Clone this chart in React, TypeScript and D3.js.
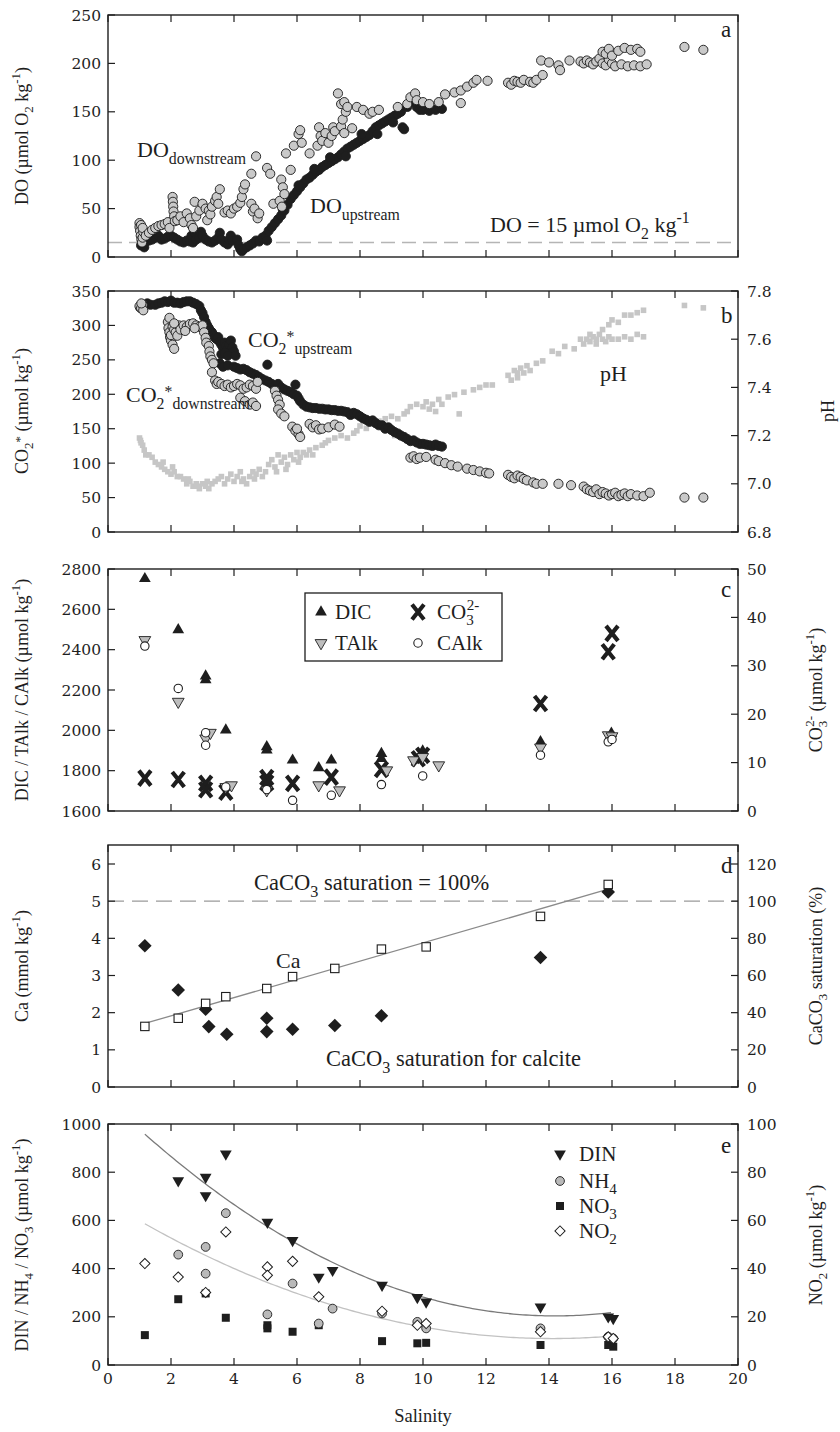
import * as d3 from 'd3'

// salinity axis, shared by all panels
const salTicks = d3.range(0, 21, 2)

// panel a: dissolved oxygen [salinity, µmol O2 kg-1]
const doDown: number[][] = [
  [1.0, 35], [1.0, 31], [1.02, 27], [1.04, 22], [1.06, 18], [1.08, 15], [1.1, 20], [1.12, 26], [1.05, 33], [1.1, 30],
  [1.2, 22], [1.3, 25], [1.4, 28], [1.5, 30], [1.6, 32], [1.7, 33], [1.8, 34], [1.9, 36], [1.95, 30],
  [2.05, 62], [2.06, 57], [2.07, 52], [2.08, 47], [2.1, 42], [2.12, 37],
  [2.2, 38], [2.3, 42], [2.4, 36], [2.5, 45], [2.6, 40], [2.65, 33], [2.7, 30], [2.75, 57], [2.8, 42], [2.9, 48],
  [3.0, 55], [3.1, 50], [3.15, 38], [3.2, 48], [3.25, 44], [3.3, 52], [3.4, 58], [3.45, 62], [3.5, 55], [3.55, 70],
  [3.7, 46], [3.8, 48], [3.9, 45], [4.0, 50], [4.1, 52], [4.2, 56], [4.25, 62], [4.3, 70], [4.35, 75],
  [4.55, 55], [4.6, 47], [4.65, 50], [4.75, 40], [4.8, 45], [4.55, 86], [4.7, 104],
  [5.05, 92], [5.15, 86], [5.25, 55], [5.45, 58], [5.5, 80], [5.52, 52], [5.55, 72], [5.6, 65], [5.65, 107],
  [5.8, 90], [5.9, 115], [6.05, 127], [6.1, 131], [6.15, 118], [6.4, 107],
  [6.65, 115], [6.7, 134], [6.75, 125], [6.8, 120], [6.9, 128], [7.0, 118], [7.1, 125], [7.15, 134], [7.2, 130],
  [7.3, 169], [7.4, 158], [7.4, 135], [7.45, 142], [7.5, 160], [7.5, 128], [7.55, 150], [7.6, 155], [7.75, 133],
  [7.9, 155], [8.1, 152], [8.3, 148], [8.4, 150], [8.6, 152], [9.2, 155],
  [9.5, 158], [9.6, 165], [9.75, 169], [9.8, 162], [10.0, 160], [10.2, 158], [10.5, 160],
  [10.7, 168], [11.0, 170], [11.2, 172], [11.2, 159], [11.4, 176], [11.6, 180], [11.7, 183], [12.05, 182],
  [12.7, 180], [12.8, 178], [12.9, 182], [13.0, 181], [13.1, 180], [13.2, 183], [13.4, 181], [13.5, 180], [13.6, 183], [13.8, 188],
  [13.75, 203], [14.0, 201], [14.3, 198], [14.35, 193], [14.65, 203],
  [15.0, 202], [15.1, 200], [15.2, 203], [15.3, 201], [15.4, 199], [15.5, 202], [15.6, 205], [15.7, 200], [15.8, 198], [15.9, 204], [16.0, 200], [16.1, 197],
  [15.7, 212], [15.8, 210], [15.9, 215], [16.0, 208], [16.2, 213], [16.4, 216], [16.6, 214], [16.8, 215], [16.9, 212],
  [16.3, 199], [16.5, 197], [16.7, 198], [16.9, 197], [17.1, 199],
  [18.3, 217], [18.9, 214],
]
const doUp: number[][] = [
  [1.05, 12], [1.1, 15], [1.15, 10], [1.2, 16], [1.3, 17], [1.4, 18], [1.5, 20], [1.6, 22], [1.7, 18], [1.8, 19], [1.9, 21],
  [2.0, 22], [2.1, 20], [2.2, 18], [2.3, 16], [2.4, 15], [2.5, 17], [2.6, 16], [2.65, 22], [2.7, 15], [2.75, 25], [2.8, 18],
  [2.9, 20], [2.95, 26], [3.0, 22], [3.1, 18], [3.2, 16], [3.3, 15], [3.4, 17], [3.5, 20], [3.55, 25], [3.6, 18], [3.7, 15],
  [3.8, 13], [3.85, 18], [3.9, 22], [3.95, 17],
  [4.1, 18], [4.15, 12], [4.2, 8], [4.25, 6], [4.3, 8], [4.4, 10], [4.5, 12], [4.6, 14], [4.7, 17], [4.8, 16], [4.9, 20], [5.0, 22], [5.05, 17],
  [5.1, 27], [5.2, 31], [5.3, 35], [5.4, 39], [5.5, 43], [5.6, 48], [5.7, 54], [5.8, 60], [5.9, 64], [6.0, 68],
  [6.1, 72], [6.2, 76], [6.3, 80], [6.4, 82], [6.5, 85], [6.6, 88], [6.7, 90], [6.8, 93], [6.9, 95], [7.0, 97],
  [7.1, 99], [7.2, 101], [7.3, 103], [7.4, 106], [7.5, 109], [7.6, 112], [7.7, 114], [7.8, 116], [7.9, 118], [8.0, 120],
  [8.1, 122], [8.2, 124], [8.3, 126], [8.4, 130], [8.5, 134], [8.6, 136], [8.7, 138], [8.8, 140], [8.9, 142], [9.0, 144],
  [9.1, 146], [9.2, 148], [9.3, 150], [9.35, 134], [9.4, 132], [9.5, 155], [9.6, 160], [9.7, 163], [9.8, 155], [9.9, 152],
  [10.0, 152], [10.2, 151], [10.4, 152], [10.6, 153],
  [5.55, 49], [6.05, 74], [6.55, 91], [7.05, 103], [7.55, 104], [8.05, 127], [8.55, 127], [9.05, 139],
]
const doLimit = 15

// panel b: CO2* [salinity, µmol kg-1] and pH [salinity, pH]
const co2Up: number[][] = [
  [1.02, 326], [1.08, 330], [1.15, 328], [1.25, 332], [1.35, 330], [1.5, 330], [1.6, 332], [1.7, 333], [1.8, 335], [1.9, 334],
  [2.0, 336], [2.1, 333], [2.2, 333], [2.3, 332], [2.4, 334], [2.5, 335], [2.6, 335], [2.7, 333], [2.8, 331], [2.9, 328], [2.95, 322],
  [3.0, 318], [3.05, 312], [3.1, 305], [3.15, 300], [3.2, 296], [3.25, 292], [3.3, 290], [3.35, 286], [3.4, 282], [3.45, 280],
  [3.5, 283], [3.55, 276], [3.6, 272], [3.65, 268], [3.7, 275], [3.75, 270], [3.8, 265], [3.85, 272], [3.9, 278], [3.95, 268],
  [4.0, 262], [3.6, 258], [3.7, 260], [3.8, 256], [4.05, 256],
  [3.55, 245], [3.65, 240], [3.8, 242], [4.0, 240], [4.1, 238], [4.2, 236], [4.3, 237], [4.4, 235], [4.5, 232], [4.6, 230], [4.7, 228], [5.06, 243],
  [4.8, 225], [4.9, 222], [5.0, 220], [5.1, 218], [5.2, 215], [5.3, 212], [5.4, 215], [5.5, 210], [5.6, 207], [5.7, 205],
  [5.8, 203], [5.9, 200], [5.95, 214], [6.0, 198],
  [6.05, 194], [6.1, 190], [6.2, 185], [6.3, 182], [6.4, 181], [6.5, 180], [6.6, 180], [6.7, 179], [6.8, 179], [6.9, 178],
  [7.0, 178], [7.1, 177], [7.2, 177], [7.3, 176], [7.4, 176], [7.5, 175], [7.6, 174],
  [7.7, 170], [7.8, 173], [7.9, 171], [8.0, 168], [8.1, 165], [8.2, 163], [8.3, 160], [8.4, 162], [8.5, 158], [8.6, 155],
  [8.7, 155], [8.8, 150], [8.9, 152], [9.0, 148], [9.1, 145], [9.2, 143], [9.3, 140], [9.4, 138],
  [9.5, 135], [9.6, 132], [9.7, 133], [9.8, 130], [9.9, 128], [10.0, 128], [10.1, 127], [10.2, 126], [10.3, 125], [10.4, 127],
  [10.5, 125], [10.6, 124],
]
const co2Down: number[][] = [
  [1.0, 328], [1.05, 325], [1.1, 330], [1.12, 322], [1.06, 332],
  [1.9, 305], [1.92, 296], [1.95, 290], [1.97, 283], [2.0, 278], [2.05, 272], [2.1, 266], [2.0, 286], [2.05, 298], [2.1, 294],
  [2.15, 290], [2.2, 285], [2.25, 300], [1.95, 311], [2.1, 303],
  [2.3, 294], [2.4, 300], [2.5, 298], [2.6, 302], [2.7, 303], [2.8, 300], [2.9, 298], [3.0, 300], [2.45, 292], [2.75, 296],
  [3.05, 290], [3.1, 282], [3.12, 275], [3.2, 270], [3.22, 262], [3.25, 255], [3.3, 250], [3.35, 245], [3.3, 232],
  [3.4, 220], [3.45, 215], [3.5, 218], [3.6, 215], [3.7, 212], [3.8, 214], [3.9, 210], [4.0, 212], [4.1, 215], [4.2, 213],
  [4.3, 208], [4.4, 210], [4.5, 214], [4.6, 212], [4.7, 208], [4.75, 218],
  [4.2, 195], [4.35, 190], [4.5, 185], [4.6, 188], [4.7, 183],
  [5.3, 205], [5.35, 198], [5.4, 192], [5.45, 185], [5.4, 178], [5.5, 172], [5.6, 168],
  [5.85, 153], [5.95, 147], [6.05, 142], [6.1, 138], [6.0, 150],
  [6.4, 157], [6.5, 152], [6.6, 155], [6.7, 149], [6.8, 150], [7.0, 152], [7.2, 156], [7.35, 153],
  [9.6, 108], [9.7, 110], [9.8, 106], [9.9, 108], [10.1, 109],
  [10.4, 105], [10.5, 103], [10.7, 100], [10.9, 97], [11.1, 95],
  [11.4, 92], [11.6, 90], [11.8, 88], [12.0, 86], [12.1, 85],
  [12.7, 83], [12.8, 80], [12.9, 78], [13.0, 82], [13.1, 80], [13.2, 77], [13.3, 75], [13.5, 72], [13.6, 70], [13.8, 70],
  [14.3, 70], [14.7, 68],
  [15.1, 66], [15.2, 62], [15.3, 60], [15.4, 58], [15.5, 62], [15.6, 55], [15.7, 58], [15.8, 56], [15.9, 53], [16.0, 55],
  [16.1, 57], [16.2, 52], [16.3, 54], [16.4, 56], [16.5, 52], [16.6, 55], [16.8, 53], [17.0, 52], [17.2, 57],
  [18.3, 50], [18.9, 50],
]
const phPts: number[][] = [
  [1.0, 7.19], [1.03, 7.18], [1.05, 7.17], [1.1, 7.16], [1.15, 7.14], [1.2, 7.12], [1.3, 7.12],
  [1.4, 7.11], [1.5, 7.09], [1.6, 7.08], [1.7, 7.07], [1.8, 7.06], [1.9, 7.05], [2.0, 7.04], [2.1, 7.05], [2.2, 7.03], [1.75, 7.09], [2.05, 7.07],
  [2.3, 7.03], [2.4, 7.02], [2.5, 7.0], [2.6, 7.01], [2.7, 6.99], [2.8, 7.0], [2.9, 6.98], [3.0, 7.0], [3.1, 6.99], [3.2, 6.98],
  [3.3, 7.0], [3.4, 7.01], [3.5, 7.02], [2.55, 7.02], [2.85, 6.99], [3.15, 7.01],
  [3.6, 7.03], [3.7, 7.0], [3.8, 7.02], [3.9, 7.04], [4.0, 7.01], [4.1, 7.03], [4.2, 7.05], [4.3, 7.02], [4.4, 7.0], [4.5, 7.03],
  [4.6, 7.05], [4.7, 7.04], [4.8, 7.06], [4.9, 7.03], [5.0, 7.05], [4.25, 7.01], [4.65, 7.02],
  [5.1, 7.08], [5.2, 7.1], [5.3, 7.07], [5.4, 7.12], [5.5, 7.09], [5.6, 7.11], [5.7, 7.08], [5.8, 7.12], [5.9, 7.1], [6.0, 7.13],
  [6.1, 7.11], [6.2, 7.13], [6.3, 7.12], [6.4, 7.14], [6.5, 7.12], [6.6, 7.15], [6.8, 7.16], [5.35, 7.05], [5.65, 7.06], [6.05, 7.09],
  [6.9, 7.17], [7.0, 7.18], [7.2, 7.19], [7.4, 7.2], [7.6, 7.19], [7.8, 7.21],
  [7.9, 7.22], [8.0, 7.24], [8.2, 7.23], [8.4, 7.25], [8.6, 7.26], [8.8, 7.27], [9.0, 7.28], [9.2, 7.27], [9.4, 7.29], [9.1, 7.2],
  [9.5, 7.3], [9.6, 7.32], [9.8, 7.33], [10.0, 7.32], [10.1, 7.34], [10.3, 7.33], [10.5, 7.35], [10.2, 7.31], [10.4, 7.3], [10.6, 7.33],
  [11.15, 7.29],
  [10.8, 7.36], [11.0, 7.37], [11.3, 7.38], [11.6, 7.39], [11.8, 7.4], [12.0, 7.41], [12.2, 7.41],
  [12.7, 7.45], [12.8, 7.43], [12.9, 7.47], [13.0, 7.46], [13.1, 7.48], [13.2, 7.46], [13.3, 7.49], [13.4, 7.47], [13.6, 7.5], [13.8, 7.51], [13.0, 7.44],
  [14.1, 7.55], [14.3, 7.54], [14.5, 7.57], [14.8, 7.56],
  [15.0, 7.6], [15.1, 7.58], [15.2, 7.6], [15.3, 7.59], [15.4, 7.61], [15.5, 7.6], [15.6, 7.62], [15.7, 7.6], [15.8, 7.59], [15.9, 7.61],
  [16.0, 7.6], [16.2, 7.6], [16.4, 7.61], [16.6, 7.6], [16.8, 7.62], [17.0, 7.61], [15.3, 7.62], [15.5, 7.58],
  [15.7, 7.64], [15.9, 7.66], [16.0, 7.68], [16.2, 7.67], [16.4, 7.7], [16.6, 7.7], [16.8, 7.71], [17.0, 7.72],
  [18.3, 7.74], [18.9, 7.73],
]

// panel c: carbonate system [salinity, value]
const dicPts = [[1.17, 2752], [2.23, 2498], [3.1, 2269], [3.1, 2250], [3.74, 2001], [5.04, 1918], [5.04, 1902], [5.86, 1852], [6.69, 1814], [7.09, 1852], [8.68, 1885], [8.68, 1860], [9.99, 1897], [13.73, 1943], [15.98, 1985]]
const talkPts = [[1.17, 2448], [2.23, 2142], [3.1, 1960], [3.25, 1988], [3.74, 1719], [3.92, 1728], [5.04, 1703], [6.69, 1728], [7.35, 1703], [8.85, 1802], [9.7, 1852], [9.99, 1868], [10.5, 1827], [13.73, 1915], [15.88, 1976], [16.0, 1971]]
const calkPts = [[1.17, 2418], [2.23, 2208], [3.1, 1988], [3.1, 1926], [3.74, 1719], [5.04, 1706], [5.86, 1653], [7.09, 1678], [8.68, 1731], [9.99, 1774], [13.73, 1877], [15.88, 1943], [16.0, 1955]]
const co3Pts = [[1.17, 6.8], [2.23, 6.5], [3.1, 5.7], [3.1, 4.4], [3.74, 3.9], [5.04, 6.9], [5.04, 5.8], [5.86, 5.7], [7.09, 7.0], [8.68, 8.6], [9.85, 10.8], [9.99, 11.5], [13.73, 22.2], [15.88, 32.9], [16.0, 36.7]]

// panel d: calcium and calcite saturation
const caPts = [[1.17, 1.63], [2.23, 1.85], [3.1, 2.25], [3.74, 2.43], [5.04, 2.65], [5.86, 2.97], [7.2, 3.19], [8.68, 3.71], [10.1, 3.77], [13.73, 4.59], [15.88, 5.45]]
const satPts = [[1.17, 76], [2.23, 52.2], [3.1, 41.8], [3.2, 32.5], [3.77, 28.4], [5.04, 37], [5.04, 29.8], [5.86, 31.1], [7.2, 33.1], [8.68, 38.3], [13.73, 69.7], [15.88, 105]]
const saturation100 = 100

// panel e: nitrogen species
const dinPts = [[2.23, 765], [3.1, 779], [3.1, 703], [3.74, 876], [5.06, 593], [5.86, 517], [6.69, 365], [7.13, 393], [8.7, 331], [9.82, 280], [10.1, 262], [13.73, 241], [15.88, 200], [16.04, 193]]
const nh4Pts = [[2.23, 458], [3.1, 490], [3.1, 379], [3.74, 630], [5.06, 210], [5.86, 338], [6.69, 172], [7.13, 234], [8.7, 214], [9.82, 179], [10.1, 152], [13.73, 152], [15.88, 117], [16.04, 110]]
const no3Pts = [[1.17, 124], [2.23, 273], [3.1, 297], [3.74, 196], [5.06, 165], [5.06, 152], [5.86, 138], [6.69, 165], [8.7, 99], [9.82, 90], [10.1, 92], [13.73, 83], [15.88, 83], [16.04, 76]]
const no2Pts = [[1.17, 42.1], [2.23, 36.5], [3.1, 30.1], [3.74, 55.2], [5.06, 40.7], [5.06, 37.2], [5.86, 43.0], [6.69, 28.3], [8.7, 22.3], [9.82, 16.5], [10.1, 17.2], [13.73, 13.8], [15.88, 11.7], [16.04, 11.0]]
// quadratic fits (a + b*s + c*s^2) as drawn in the figure
const dinFit = [1099.6, -126.2, 4.444]
const nh4Fit = [676, -80.27, 2.845]
const fitRange = [1.17, 16]

// tick values
const doTicks = d3.range(0, 251, 50)
const co2Ticks = d3.range(0, 351, 50)
const phTicks = [6.8, 7.0, 7.2, 7.4, 7.6, 7.8]
const dicTicks = d3.range(1600, 2801, 200)
const co3Ticks = d3.range(0, 51, 10)
const caTicks = d3.range(0, 7, 1)
const satTicks = d3.range(0, 121, 20)
const dinTicks = d3.range(0, 1001, 200)
const no2Ticks = d3.range(0, 101, 20)

const L = 108, R = 738, TK = 7
const INK = '#1e1e1e'
const SERIF = "'Liberation Serif', 'Times New Roman', Times, serif"
const TICKFONT = "'DejaVu Serif', serif"

const x = d3.scaleLinear().domain([0, 20]).range([L, R])
const yA = d3.scaleLinear().domain([0, 250]).range([257, 15])
const yB = d3.scaleLinear().domain([0, 350]).range([532, 291])
const yBr = d3.scaleLinear().domain([6.8, 7.8]).range([532, 291])
const yC = d3.scaleLinear().domain([1600, 2800]).range([811, 569])
const yCr = d3.scaleLinear().domain([0, 50]).range([811, 569])
const yD = d3.scaleLinear().domain([0, 6]).range([1087, 864])
const yDr = d3.scaleLinear().domain([0, 120]).range([1087, 864])
const yE = d3.scaleLinear().domain([0, 1000]).range([1365, 1124])
const yEr = d3.scaleLinear().domain([0, 100]).range([1365, 1124])

const sym = (type: any, size: number) => d3.symbol().type(type).size(size)() as string
const triUp = sym(d3.symbolTriangle, 60)
const squareP = sym(d3.symbolSquare, 64)
const diamondBig = sym(d3.symbolSquare, 92)
const diamondSmall = sym(d3.symbolSquare, 52)
const crossX = 'M-6,-7.5L6,7.5M6,-7.5L-6,7.5'

// text with sub/superscripts: [text, shift(em), dx(px)]
function Rich({ segs, x, y, size, anchor = 'start', rotate = false, fill = INK }: any) {
  let cur = 0
  return (
    <text x={x} y={y} fontSize={size} textAnchor={anchor} fill={fill} style={{ fontFamily: SERIF }}
      transform={rotate ? `rotate(-90, ${x}, ${y})` : undefined}>
      {segs.map((s: any[], i: number) => {
        const off = s[1] || 0
        const dy = (off - cur) * size
        cur = off
        return <tspan key={i} dy={dy} dx={s[2] || 0} fontSize={off ? size * 0.72 : size}>{s[0]}</tspan>
      })}
    </text>
  )
}

function Txt({ children, ...p }: any) {
  return <text fill={INK} style={{ fontFamily: SERIF }} {...p}>{children}</text>
}

function Frame({ top, bottom, yl, ylTicks, yr, yrTicks, yrFmt, xLabels }: any) {
  const tickFont = { style: { fontFamily: TICKFONT }, fontSize: 15.5, fill: INK }
  return (
    <g>
      <rect x={L} y={top} width={R - L} height={bottom - top} fill="none" stroke={INK} strokeWidth={1.4} />
      {salTicks.map(v => (
        <g key={'x' + v} stroke={INK} strokeWidth={1.2}>
          <line x1={x(v)} x2={x(v)} y1={bottom} y2={bottom - TK} />
          <line x1={x(v)} x2={x(v)} y1={top} y2={top + TK} />
        </g>
      ))}
      {xLabels && salTicks.map(v => (
        <text key={'xl' + v} x={x(v)} y={bottom + 19} textAnchor="middle" {...tickFont}>{v}</text>
      ))}
      {ylTicks.map((v: number) => (
        <g key={'l' + v}>
          <line x1={L} x2={L + TK} y1={yl(v)} y2={yl(v)} stroke={INK} strokeWidth={1.2} />
          <text x={L - 7} y={yl(v)} dy="0.36em" textAnchor="end" {...tickFont}>{v}</text>
        </g>
      ))}
      {yr && yrTicks.map((v: number) => (
        <g key={'r' + v}>
          <line x1={R} x2={R - TK} y1={yr(v)} y2={yr(v)} stroke={INK} strokeWidth={1.2} />
          <text x={R + 9} y={yr(v)} dy="0.36em" textAnchor="start" {...tickFont}>{yrFmt ? yrFmt(v) : v}</text>
        </g>
      ))}
    </g>
  )
}

const grayDot = { r: 4.6, fill: '#c9c9c9', stroke: '#1a1a1a', strokeWidth: 0.9 }
const blackDot = { r: 4.6, fill: '#1e1e1e', stroke: '#1e1e1e', strokeWidth: 0.9 }

export default function App() {
  const line = d3.line<number[]>().x(d => x(d[0]))
  const fitPts = (c: number[]) => d3.range(fitRange[0], fitRange[1] + 0.001, 0.1).map(s => [s, c[0] + c[1] * s + c[2] * s * s])
  const fitLine = d3.line<number[]>().x(d => x(d[0])).y(d => yE(d[1]))

  // linear regression of Ca on salinity
  const mx = d3.mean(caPts, d => d[0]) as number
  const my = d3.mean(caPts, d => d[1]) as number
  const slope = (d3.sum(caPts, d => (d[0] - mx) * (d[1] - my))) / (d3.sum(caPts, d => (d[0] - mx) ** 2))
  const caExt = d3.extent(caPts, d => d[0]) as number[]
  const caLine = caExt.map(s => [s, my + slope * (s - mx)])

  const sub = 0.3, sup = -0.42
  const lab = 18
  const letterX = 721

  return (
    <svg width={840} height={1432} style={{ position: 'absolute', left: 0, top: 0, background: '#fff' }}>
      {/* panel a */}
      <line x1={L} x2={R} y1={yA(doLimit)} y2={yA(doLimit)} stroke="#b5b5b5" strokeWidth={1.3} strokeDasharray="14 7" />
      {doUp.map((d, i) => <circle key={'du' + i} cx={x(d[0])} cy={yA(d[1])} {...blackDot} />)}
      {doDown.map((d, i) => <circle key={'dd' + i} cx={x(d[0])} cy={yA(d[1])} {...grayDot} />)}
      <Frame top={15} bottom={257} yl={yA} ylTicks={doTicks} />
      <Rich x={137} y={157} size={22} segs={[['DO'], ['downstream', 0.3]]} />
      <Rich x={310} y={213} size={22} segs={[['DO'], ['upstream', 0.3]]} />
      <Rich x={490} y={232} size={22} segs={[['DO = 15 µmol O'], ['2', sub], [' kg'], ['-1', sup]]} />
      <Txt x={letterX} y={37} fontSize={23}>a</Txt>
      <Rich x={28} y={136} size={lab} anchor="middle" rotate segs={[['DO (µmol O'], ['2', sub], [' kg'], ['-1', sup], [')']]} />

      {/* panel b */}
      {phPts.map((d, i) => <rect key={'ph' + i} x={x(d[0]) - 2.8} y={yBr(d[1]) - 2.8} width={5.6} height={5.6} fill="#c6c6c6" />)}
      {co2Up.map((d, i) => <circle key={'cu' + i} cx={x(d[0])} cy={yB(d[1])} {...blackDot} />)}
      {co2Down.map((d, i) => <circle key={'cd' + i} cx={x(d[0])} cy={yB(d[1])} {...grayDot} />)}
      <Frame top={291} bottom={532} yl={yB} ylTicks={co2Ticks} yr={yBr} yrTicks={phTicks} yrFmt={d3.format('.1f')} />
      <Rich x={248} y={347} size={22} segs={[['CO'], ['2', sub], ['*', -0.25], ['upstream', 0.3]]} />
      <Rich x={126} y={402} size={22} segs={[['CO'], ['2', sub], ['*', -0.25], ['downstream', 0.3]]} />
      <Txt x={600} y={381} fontSize={22}>pH</Txt>
      <Txt x={letterX} y={323} fontSize={23}>b</Txt>
      <Rich x={28} y={411} size={lab} anchor="middle" rotate segs={[['CO'], ['2', sub], ['*', -0.25], [' (µmol kg'], ['-1', sup], [')']]} />
      <Txt x={834} y={411} fontSize={lab} textAnchor="middle" transform="rotate(-90, 834, 411)">pH</Txt>

      {/* panel c */}
      {co3Pts.map((d, i) => <path key={'x' + i} d={crossX} transform={`translate(${x(d[0])},${yCr(d[1])})`} stroke={INK} strokeWidth={4.2} fill="none" />)}
      {dicPts.map((d, i) => <path key={'dic' + i} d={triUp} transform={`translate(${x(d[0])},${yC(d[1])})`} fill={INK} />)}
      {talkPts.map((d, i) => <path key={'ta' + i} d={triUp} transform={`translate(${x(d[0])},${yC(d[1])}) rotate(180)`} fill="#bdbdbd" stroke={INK} strokeWidth={0.9} />)}
      {calkPts.map((d, i) => <circle key={'ca' + i} cx={x(d[0])} cy={yC(d[1])} r={4.2} fill="#fff" stroke={INK} strokeWidth={1.1} />)}
      <Frame top={569} bottom={811} yl={yC} ylTicks={dicTicks} yr={yCr} yrTicks={co3Ticks} />
      <g>
        <rect x={305} y={593} width={197} height={68} fill="#fff" stroke={INK} strokeWidth={1.3} />
        <path d={triUp} transform="translate(321,612)" fill={INK} />
        <Txt x={335} y={619} fontSize={21}>DIC</Txt>
        <path d={crossX} transform="translate(418,612)" stroke={INK} strokeWidth={4.2} fill="none" />
        <Rich x={437} y={619} size={21} segs={[['CO'], ['3', sub], ['2-', -0.45, -7]]} />
        <path d={triUp} transform="translate(321,643) rotate(180)" fill="#bdbdbd" stroke={INK} strokeWidth={0.9} />
        <Txt x={335} y={650} fontSize={21}>TAlk</Txt>
        <circle cx={418} cy={643} r={4.2} fill="#fff" stroke={INK} strokeWidth={1.1} />
        <Txt x={437} y={650} fontSize={21}>CAlk</Txt>
      </g>
      <Txt x={letterX} y={597} fontSize={23}>c</Txt>
      <Rich x={28} y={690} size={lab} anchor="middle" rotate segs={[['DIC / TAlk / CAlk (µmol kg'], ['-1', sup], [')']]} />
      <Rich x={822} y={690} size={lab} anchor="middle" rotate segs={[['CO'], ['3', sub], ['2-', -0.45, -6], [' (µmol kg'], ['-1', sup], [')']]} />

      {/* panel d */}
      <line x1={L} x2={R} y1={yDr(saturation100)} y2={yDr(saturation100)} stroke="#9a9a9a" strokeWidth={1.3} strokeDasharray="16 8" />
      <path d={line.y(d => yD(d[1]))(caLine) as string} stroke="#8a8a8a" strokeWidth={1.3} fill="none" />
      {satPts.map((d, i) => <path key={'sat' + i} d={diamondBig} transform={`translate(${x(d[0])},${yDr(d[1])}) rotate(45)`} fill={INK} />)}
      {caPts.map((d, i) => <rect key={'cap' + i} x={x(d[0]) - 4.2} y={yD(d[1]) - 4.2} width={8.4} height={8.4} fill="#fff" stroke={INK} strokeWidth={1.1} />)}
      <Frame top={845} bottom={1087} yl={yD} ylTicks={caTicks} yr={yDr} yrTicks={satTicks} />
      <Rich x={254} y={890} size={22.5} segs={[['CaCO'], ['3', sub], ['  saturation = 100%']]} />
      <Txt x={276} y={968} fontSize={22}>Ca</Txt>
      <Rich x={326} y={1066} size={22.5} segs={[['CaCO'], ['3', sub], ['  saturation for calcite']]} />
      <Txt x={letterX} y={873} fontSize={23}>d</Txt>
      <Rich x={28} y={966} size={lab} anchor="middle" rotate segs={[['Ca (mmol kg'], ['-1', sup], [')']]} />
      <Rich x={822} y={966} size={lab} anchor="middle" rotate segs={[['CaCO'], ['3', sub], [' saturation (%)']]} />

      {/* panel e */}
      <path d={fitLine(fitPts(dinFit)) as string} stroke="#7a7a7a" strokeWidth={1.3} fill="none" />
      <path d={fitLine(fitPts(nh4Fit)) as string} stroke="#c2c2c2" strokeWidth={1.3} fill="none" />
      {no3Pts.map((d, i) => <path key={'n3' + i} d={squareP} transform={`translate(${x(d[0])},${yE(d[1])})`} fill={INK} />)}
      {nh4Pts.map((d, i) => <circle key={'n4' + i} cx={x(d[0])} cy={yE(d[1])} r={4.4} fill="#b9b9b9" stroke={INK} strokeWidth={0.9} />)}
      {no2Pts.map((d, i) => <path key={'n2' + i} d={diamondSmall} transform={`translate(${x(d[0])},${yEr(d[1])}) rotate(45)`} fill="#fff" stroke={INK} strokeWidth={1} />)}
      {dinPts.map((d, i) => <path key={'din' + i} d={triUp} transform={`translate(${x(d[0])},${yE(d[1])}) rotate(180)`} fill={INK} />)}
      <Frame top={1124} bottom={1365} yl={yE} ylTicks={dinTicks} yr={yEr} yrTicks={no2Ticks} xLabels />
      <g>
        <path d={triUp} transform="translate(560,1154) rotate(180)" fill={INK} />
        <Txt x={579} y={1161} fontSize={21}>DIN</Txt>
        <circle cx={560} cy={1181} r={4.4} fill="#b9b9b9" stroke={INK} strokeWidth={0.9} />
        <Rich x={579} y={1188} size={21} segs={[['NH'], ['4', sub]]} />
        <path d={squareP} transform="translate(560,1206)" fill={INK} />
        <Rich x={579} y={1213} size={21} segs={[['NO'], ['3', sub]]} />
        <path d={diamondSmall} transform="translate(560,1231) rotate(45)" fill="#fff" stroke={INK} strokeWidth={1} />
        <Rich x={579} y={1238} size={21} segs={[['NO'], ['2', sub]]} />
      </g>
      <Txt x={letterX} y={1153} fontSize={23}>e</Txt>
      <Rich x={28} y={1245} size={lab} anchor="middle" rotate segs={[['DIN / NH'], ['4', sub], [' / NO'], ['3', sub], [' (µmol kg'], ['-1', sup], [')']]} />
      <Rich x={822} y={1245} size={lab} anchor="middle" rotate segs={[['NO'], ['2', sub], [' (µmol kg'], ['-1', sup], [')']]} />

      <Txt x={423} y={1422} fontSize={18.5} textAnchor="middle">Salinity</Txt>
    </svg>
  )
}
